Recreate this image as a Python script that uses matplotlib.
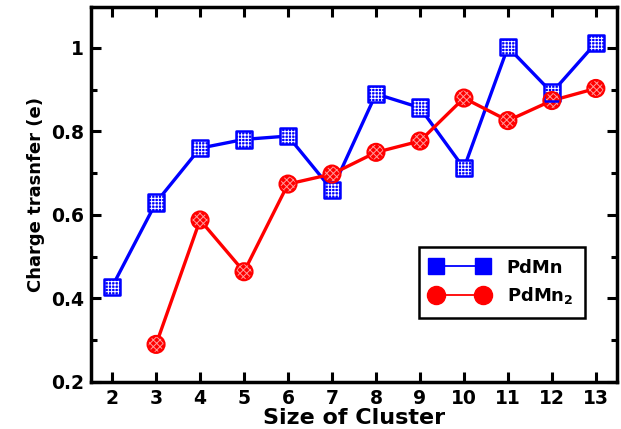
import numpy as np
import matplotlib.pyplot as plt
from matplotlib.lines import Line2D

plt.rcParams['font.family'] = ['DejaVu Sans']
plt.rcParams['font.weight'] = 'bold'
plt.rcParams['mathtext.default'] = 'bf'
plt.rcParams['hatch.linewidth'] = 0.7

size = [2, 3, 4, 5, 6, 7, 8, 9, 10, 11, 12, 13]
pdmn = [0.428, 0.630, 0.760, 0.781, 0.789, 0.660, 0.890, 0.857, 0.712, 1.002, 0.893, 1.012]
size2 = [3, 4, 5, 6, 7, 8, 9, 10, 11, 12, 13]
pdmn2 = [0.290, 0.588, 0.464, 0.674, 0.698, 0.750, 0.777, 0.880, 0.826, 0.874, 0.903]

fig = plt.figure(figsize=(6.21, 4.29), dpi=100)
ax = fig.add_axes([0.1465, 0.1096, 0.847, 0.874])

ax.plot(size, pdmn, '-', color='blue', lw=2.4, zorder=2)
# hatched squares: white grid on blue, then blue outline
ax.scatter(size, pdmn, marker='s', s=140, facecolor='blue', edgecolor='white',
           hatch='+++++', linewidths=0, zorder=3)
ax.scatter(size, pdmn, marker='s', s=140, facecolor='none', edgecolor='blue',
           linewidths=1.8, zorder=4)
ax.plot(size2, pdmn2, '-', color='red', lw=2.4, zorder=2)
ax.scatter(size2, pdmn2, marker='o', s=150, facecolor='red', edgecolor='#ff9a9a',
           hatch='xxxxx', linewidths=0, zorder=3)
ax.scatter(size2, pdmn2, marker='o', s=150, facecolor='none', edgecolor='red',
           linewidths=1.5, zorder=4)

ax.set_xlim(1.52, 13.48)
ax.set_ylim(0.2, 1.098)
ax.set_xticks(size)
ax.set_yticks([0.2, 0.4, 0.6, 0.8, 1.0])
ax.set_yticklabels(['0.2', '0.4', '0.6', '0.8', '1'])
ax.set_yticks(np.arange(0.3, 1.1, 0.2), minor=True)

for s in ax.spines.values():
    s.set_linewidth(2.5)
ax.tick_params(which='both', direction='in', top=True, right=True, width=2.2,
               labelsize=13.5, pad=5)
ax.tick_params(which='major', length=7)
ax.tick_params(which='minor', length=4)

ax.set_xlabel('Size of Cluster', fontsize=16, fontweight='bold', labelpad=0)
ax.set_ylabel('Charge trasnfer (e)', fontsize=13, fontweight='bold', labelpad=4)

h1 = Line2D([], [], color='blue', lw=1.3, marker='s', markersize=12,
            markerfacecolor='blue', markeredgecolor='blue')
h2 = Line2D([], [], color='red', lw=1.3, marker='o', markersize=13,
            markerfacecolor='red', markeredgecolor='red')
leg = ax.legend([h1, h2], ['PdMn', 'PdMn$_2$'], loc='upper left',
                bbox_to_anchor=(0.624, 0.36), borderaxespad=0, numpoints=2,
                fancybox=False, edgecolor='black', framealpha=1, fontsize=13,
                handlelength=3.2, borderpad=0.65, labelspacing=0.45,
                handletextpad=1.0)
leg.get_frame().set_linewidth(1.8)

fig.savefig('out.png', dpi=100)
